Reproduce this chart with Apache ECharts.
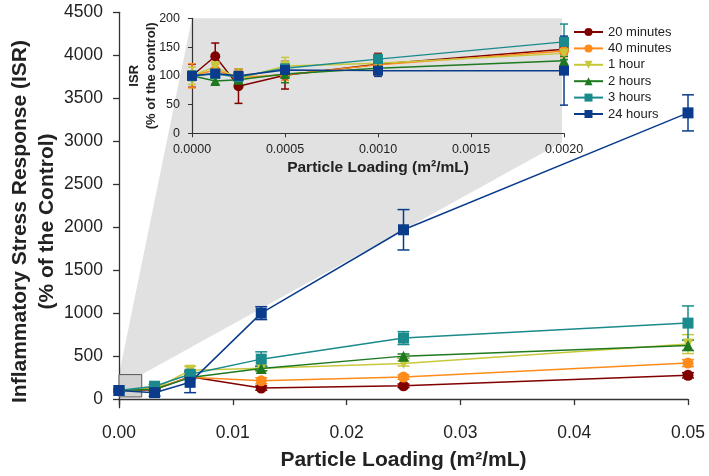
<!DOCTYPE html>
<html><head><meta charset="utf-8">
<script src="https://cdn.jsdelivr.net/npm/echarts@6/dist/echarts.min.js"></script>
<style>html,body{margin:0;padding:0;background:#fff}#c{width:709px;height:476px}</style>
</head><body><div id="c"></div>
<script>
// ---------- data ----------
const seriesNames = ['20 minutes', '40 minutes', '1 hour', '2 hours', '3 hours', '24 hours'];
const xMain = [0, 0.003125, 0.00625, 0.0125, 0.025, 0.05];
const xInset = [0, 0.000125, 0.00025, 0.0005, 0.001, 0.002];

const main20m = [100, 110, 260, 128, 155, 277];
const main40m = [100, 125, 255, 213, 256, 419];
const main1h  = [100, 120, 335, 360, 415, 640];
const main2h  = [100, 115, 250, 355, 500, 625];
const main3h  = [100, 150, 290, 465, 710, 884];
const main24h = [100, 75, 195, 1000, 1970, 3330];

const err20m = [20, 15, 20, 25, 20, 30];
const err40m = [20, 15, 20, 35, 25, 40];
const err1h  = [20, 20, 45, 30, 30, 110];
const err2h  = [15, 15, 20, 25, 25, 60];
const err3h  = [15, 20, 40, 85, 75, 200];
const err24h = [15, 40, 120, 75, 235, 210];

const inset20m = [100, 134, 82, 101, 120, 146];
const inset40m = [100, 110, 97, 102, 119, 143];
const inset1h  = [100, 116, 95, 117, 122, 139];
const inset2h  = [100, 91, 93, 103, 113, 126];
const inset3h  = [100, 103, 98, 113, 129, 159];
const inset24h = [100, 104, 100, 110, 109, 109];

const ierr20m = [20, 23, 30, 24, 19, 8];
const ierr40m = [21, 10, 12, 10, 18, 10];
const ierr1h  = [15, 10, 17, 15, 10, 10];
const ierr2h  = [8, 5, 5, 15, 8, 8];
const ierr3h  = [8, 5, 5, 8, 8, 31];
const ierr24h = [5, 5, 5, 8, 10, 60];

const mainYTicks = [0, 500, 1000, 1500, 2000, 2500, 3000, 3500, 4000, 4500];
const zoomBox = {x0: 0, x1: 0.002, y0: 25, y1: 285};

// ---------- styles ----------
const colors = ['#800000', '#ff8c1a', '#c8c83c', '#1f7a1f', '#1b8a8c', '#0b3c8c'];
const symbols = ['circle', 'circle', 'path://M0,0 L10,0 L5,9 Z', 'triangle', 'rect', 'rect'];
const FONT = 'Liberation Sans, Arial, sans-serif';
const TXT = '#222';
const AX = '#333';

const mainVals = [main20m, main40m, main1h, main2h, main3h, main24h];
const mainErrs = [err20m, err40m, err1h, err2h, err3h, err24h];
const insetVals = [inset20m, inset40m, inset1h, inset2h, inset3h, inset24h];
const insetErrs = [ierr20m, ierr40m, ierr1h, ierr2h, ierr3h, ierr24h];

function errRender(capHalf) {
  return function (params, api) {
    const x = api.value(0), lo = api.value(1), hi = api.value(2);
    const p1 = api.coord([x, hi]), p2 = api.coord([x, lo]);
    const style = {stroke: api.visual('color'), lineWidth: 1.5};
    return {type: 'group', children: [
      {type: 'line', shape: {x1: p1[0], y1: p1[1], x2: p2[0], y2: p2[1]}, style},
      {type: 'line', shape: {x1: p1[0] - capHalf, y1: p1[1], x2: p1[0] + capHalf, y2: p1[1]}, style},
      {type: 'line', shape: {x1: p2[0] - capHalf, y1: p2[1], x2: p2[0] + capHalf, y2: p2[1]}, style}
    ]};
  };
}

const series = [];
function addGroup(xs, vals, errs, axisIdx, symSize, capHalf) {
  vals.forEach((v, i) => {
    series.push({
      type: 'custom', name: 'err-' + axisIdx + '-' + i, xAxisIndex: axisIdx, yAxisIndex: axisIdx,
      renderItem: errRender(capHalf), itemStyle: {color: colors[i]},
      data: xs.map((x, k) => [x, v[k] - errs[i][k], v[k] + errs[i][k]]),
      z: 2, silent: true
    });
  });
  vals.forEach((v, i) => {
    series.push({
      type: 'line', name: seriesNames[i], xAxisIndex: axisIdx, yAxisIndex: axisIdx,
      data: xs.map((x, k) => [x, v[k]]),
      symbol: symbols[i], symbolSize: symSize, showAllSymbol: true,
      itemStyle: {color: colors[i]}, lineStyle: {color: colors[i], width: 1.5},
      z: 3, animation: false
    });
  });
}
addGroup(xMain, mainVals, mainErrs, 0, 11, 6);
addGroup(xInset, insetVals, insetErrs, 1, 10, 4);

const chart = echarts.init(document.getElementById('c'), null, {renderer: 'canvas'});
chart.setOption({
  animation: false,
  backgroundColor: '#fff',
  textStyle: {fontFamily: FONT},
  grid: [
    {left: 119, right: 21, top: 12.3, bottom: 68.3, containLabel: false, outerBoundsMode: 'none'},
    {left: 192, right: 145, top: 18.3, bottom: 342.7, containLabel: false, outerBoundsMode: 'none'}
  ],
  legend: {
    data: seriesNames, orient: 'vertical', left: 568, top: 20,
    itemWidth: 29, itemHeight: 10, itemGap: 2.4,
    textStyle: {fontFamily: FONT, fontSize: 13, color: TXT, lineHeight: 14}
  },
  xAxis: [
    {type: 'value', gridIndex: 0, min: 0, max: 0.05, interval: 0.01,
     axisLine: {lineStyle: {color: AX, width: 1.3}},
     axisTick: {length: 6, lineStyle: {color: AX, width: 1.3}},
     splitLine: {show: false},
     axisLabel: {formatter: v => v.toFixed(2), fontSize: 17.5, color: TXT, margin: 16, fontFamily: FONT},
     name: 'Particle Loading (m²/mL)', nameLocation: 'middle', nameGap: 42, nameMoveOverlap: false,
     nameTextStyle: {fontSize: 21, fontWeight: 'bold', color: TXT, fontFamily: FONT}},
    {type: 'value', gridIndex: 1, min: 0, max: 0.002, interval: 0.0005,
     axisLine: {lineStyle: {color: AX, width: 1.2}},
     axisTick: {length: 4, lineStyle: {color: AX}},
     splitLine: {show: false},
     axisLabel: {formatter: v => v.toFixed(4), fontSize: 12.5, color: TXT, margin: 10, fontFamily: FONT},
     name: 'Particle Loading (m²/mL)', nameLocation: 'middle', nameGap: 26, nameMoveOverlap: false,
     nameTextStyle: {fontSize: 15.5, fontWeight: 'bold', color: TXT, fontFamily: FONT}}
  ],
  yAxis: [
    {type: 'value', gridIndex: 0, min: -100, max: 4500,
     axisLine: {show: true, lineStyle: {color: AX, width: 1.3}},
     axisTick: {show: true, length: 6, customValues: mainYTicks, lineStyle: {color: AX, width: 1.3}},
     splitLine: {show: false},
     axisLabel: {customValues: mainYTicks, formatter: v => String(v), fontSize: 17.5, color: TXT, margin: 16, fontFamily: FONT},
     name: 'Inflammatory Stress Response (ISR)\n(% of the Control)', nameLocation: 'middle', nameGap: 58, nameMoveOverlap: false,
     nameTextStyle: {fontSize: 21, fontWeight: 'bold', color: TXT, lineHeight: 27, fontFamily: FONT, padding: [0, 23, 0, 0]}},
    {type: 'value', gridIndex: 1, min: 0, max: 200, interval: 50,
     axisLine: {show: true, lineStyle: {color: AX, width: 1.2}},
     axisTick: {show: true, length: 4, lineStyle: {color: AX}},
     splitLine: {show: false},
     axisLabel: {formatter: v => String(v), fontSize: 12.5, color: TXT, margin: 12, fontFamily: FONT},
     name: 'ISR\n(% of the control)', nameLocation: 'middle', nameGap: 32, nameMoveOverlap: false,
     nameTextStyle: {fontSize: 13, fontWeight: 'bold', color: TXT, lineHeight: 17, fontFamily: FONT}}
  ],
  series: series
});

// zoom callout (decoration) computed from axis scales
const bTL = chart.convertToPixel({xAxisIndex: 0, yAxisIndex: 0}, [zoomBox.x0, zoomBox.y1]);
const bBR = chart.convertToPixel({xAxisIndex: 0, yAxisIndex: 0}, [zoomBox.x1, zoomBox.y0]);
const iTL = chart.convertToPixel({xAxisIndex: 1, yAxisIndex: 1}, [0, 200]);
const iBR = chart.convertToPixel({xAxisIndex: 1, yAxisIndex: 1}, [0.002, 0]);
chart.setOption({
  graphic: [
    {type: 'polygon', z: -1, silent: true,
     shape: {points: [[bTL[0], bTL[1]], [iTL[0], iTL[1]], [iBR[0] - 2, iTL[1]], [iBR[0] - 2, iBR[1] + 9], [bBR[0], bTL[1]], [bBR[0], bBR[1]], [bTL[0], bBR[1]]]},
     style: {fill: '#e1e1e1'}},
    {type: 'rect', z: 1, silent: true,
     shape: {x: bTL[0], y: bTL[1], width: bBR[0] - bTL[0], height: bBR[1] - bTL[1]},
     style: {fill: '#d2d2d2', stroke: '#555', lineWidth: 1}}
  ]
});
</script></body></html>
